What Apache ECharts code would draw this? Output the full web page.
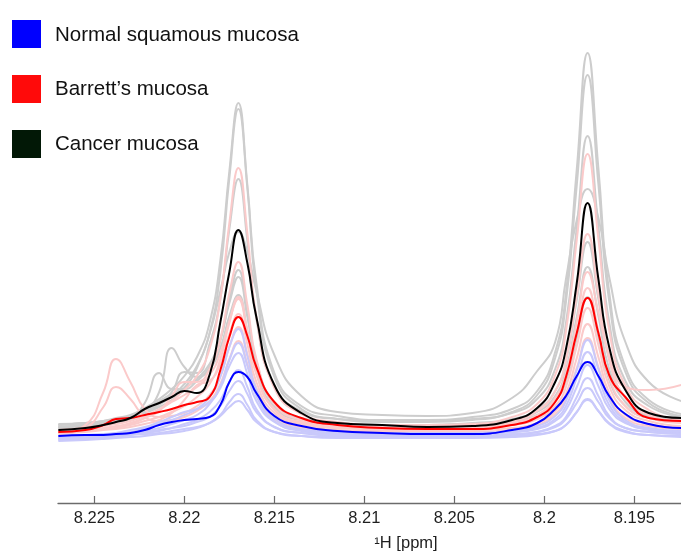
<!DOCTYPE html>
<html>
<head>
<meta charset="utf-8">
<script src="https://cdn.jsdelivr.net/npm/echarts@6/dist/echarts.min.js"></script>
<style>
html,body{margin:0;padding:0;background:#fff;}
#chart{width:681px;height:554px;}
</style>
</head>
<body>
<div id="chart"></div>
<script>
// chemical shift grid (ppm)
const ppm = [8.2270, 8.2255, 8.2245, 8.2238, 8.2230, 8.2222, 8.2214, 8.2207, 8.2200, 8.2193, 8.2186, 8.2180, 8.2175, 8.2170, 8.2165, 8.2160, 8.2150, 8.2135, 8.2115, 8.2090, 8.2065, 8.2040, 8.2018, 8.2004, 8.1994, 8.1988, 8.1982, 8.1976, 8.1970, 8.1964, 8.1955, 8.1942, 8.1924];

const tickValues = [8.195, 8.2, 8.205, 8.21, 8.215, 8.22, 8.225];
const legendNames = ['Normal squamous mucosa', "Barrett\u2019s mucosa", 'Cancer mucosa'];
const axisTitle = '\u00B9H [ppm]';

// mean spectra (arbitrary intensity)
const normalMean  = [1,2,2,3,4,7,12,15,17,18,20,32,55,65,60,44,21,11,6,4,3,3, 7,14,28,41,61,75,61,41,23,13,9];
const barrettMean = [5,7,12,18,19,22,25,28,32,35,40,67,100,120,101,70,35,19,12,9,8,8, 12,20,35,60,104,139,104,62,40,19,16];
const cancerMean  = [7,9,12,15,19,28,34,40,46,44,62,115,165,207,174,120,52,24,14,12,10,11, 17,29,55,88,154,234,158,90,47,24,19];

// individual normal squamous mucosa spectra
const normal1 = [0,1,2,4,5,9,13,17,22,28,40,60,90,108,81,47,19,8,5,4,4,4, 6,11,21,36,67,97,68,37,17,9,6];
const normal2 = [-1,0,1,3,4,6,9,13,17,22,33,51,77,94,71,41,16,6,3,3,2,3, 5,9,18,31,59,85,60,32,15,7,4];
const normal3 = [1,2,3,4,7,10,15,20,25,28,35,49,71,84,63,36,15,7,4,3,3,4, 5,8,16,27,50,72,51,28,14,8,5];
const normal4 = [-3,-1,0,1,2,4,6,9,13,17,25,37,55,67,50,28,10,4,1,0,0,0, 2,5,11,20,40,59,41,21,9,5,3];
const normal5 = [-1,0,1,2,3,5,7,9,11,15,20,31,46,56,43,25,10,4,2,1,1,2, 3,5,10,18,34,49,35,19,9,5,3];
const normal6 = [-4,-3,-2,-1,0,1,3,4,6,9,14,22,35,43,32,17,5,1,-1,-1,-1,-1, 0,2,6,12,25,38,26,13,5,2,0];
const normal7 = [-2,-2,-1,0,2,3,4,6,8,10,14,21,30,36,27,15,5,1,0,0,-1,0, 1,3,6,12,25,37,26,14,6,2,1];

// individual Barrett's mucosa spectra
const barrett1 = [7,9,11,13,16,21,28,36,47,61,88,138,214,269,204,120,49,23,15,12,12,13, 20,33,62,106,197,283,198,107,51,27,17];
const barrett2 = [6,8,9,11,13,19,26,41,55,55,68,98,144,175,132,78,33,17,12,10,10,12, 16,26,46,77,142,203,143,78,39,22,15];
const barrett3 = [5,6,8,9,12,16,20,25,31,40,53,78,114,140,106,63,27,14,10,8,8,9, 14,22,39,64,115,165,125,82,50,47,52];
const barrett4 = [4,5,7,8,10,13,17,24,37,52,56,73,103,123,93,55,24,13,9,8,8,9, 12,18,31,50,91,129,92,51,27,16,11];
const barrett5 = [4,12,45,78,55,28,20,21,24,31,42,61,90,110,83,49,21,10,7,6,6,7, 9,14,26,43,79,113,80,44,22,13,9];
const barrett6 = [3,9,30,50,38,20,16,17,20,26,36,53,78,96,73,43,18,8,6,5,5,5, 7,12,23,38,69,99,70,39,19,11,8];
const barrett7 = [5,6,8,10,14,19,27,35,42,50,62,84,116,138,104,63,28,15,12,10,10,11, 14,21,36,59,105,149,106,60,31,19,14];

// individual cancer mucosa spectra
const cancer1 = [12,14,16,19,22,29,38,48,61,80,114,177,266,334,252,154,64,31,21,17,17,20, 28,46,85,144,268,384,269,145,70,37,23];
const cancer2 = [10,12,14,16,20,25,32,41,53,71,104,165,259,328,249,147,60,28,18,15,15,17, 25,42,79,135,252,362,253,136,65,34,21];
const cancer3 = [12,14,15,17,20,26,33,45,65,64,93,138,208,258,196,118,51,26,18,16,16,18, 24,38,68,114,210,301,211,115,56,31,20];
const cancer4 = [9,11,12,14,18,34,64,48,48,56,70,96,138,167,126,76,34,18,13,12,12,13, 18,27,46,76,137,195,138,77,39,23,16];
const cancer5 = [9,10,12,14,18,25,45,89,70,60,68,89,121,142,106,65,30,17,14,12,12,14, 17,25,41,67,120,170,121,68,35,21,16];
const cancer6 = [13,14,16,18,20,24,30,37,49,69,103,146,185,205,185,146,82,41,25,22,21,24, 39,66,95,158,217,248,219,160,95,55,36];
const cancer7 = [10,12,13,15,21,28,36,43,49,58,73,98,134,160,120,73,33,19,14,12,12,13, 16,22,36,56,99,140,100,57,31,19,15];

const colNormal = '#0000ff', colBarrett = '#ff0000', colCancer = '#000000';
const colNormalFaint = '#c9c9fb', colBarrettFaint = '#fbcaca', colCancerFaint = '#cdcdcd';
const legendColors = ['#0000ff', '#ff0a0a', '#021806'];

function pairs(vals) { return ppm.map((p, i) => [p, vals[i]]); }
function line(name, vals, color, width, z) {
  return {
    name: name, type: 'line', data: pairs(vals), smooth: 0.5,
    showSymbol: false, symbol: 'none', silent: true, z: z,
    lineStyle: { color: color, width: width }, emphasis: { disabled: true }
  };
}

const series = [];
[cancer1, cancer2, cancer3, cancer4, cancer5, cancer6, cancer7].forEach((v, i) => series.push(line('c' + i, v, colCancerFaint, 2, 2)));
[barrett1, barrett2, barrett3, barrett4, barrett5, barrett6, barrett7].forEach((v, i) => series.push(line('b' + i, v, colBarrettFaint, 2, 3)));
[normal1, normal2, normal3, normal4, normal5, normal6, normal7].forEach((v, i) => series.push(line('n' + i, v, colNormalFaint, 2, 4)));
series.push(line(legendNames[1], barrettMean, colBarrett, 2, 5));
series.push(line(legendNames[2], cancerMean, colCancer, 2, 6));
series.push(line(legendNames[0], normalMean, colNormal, 2, 7));

const font = '"Liberation Sans", Arial, Helvetica, sans-serif';
const legendGraphics = [];
const legendY = [20, 75, 130];
const legendTextY = [35.5, 89, 144.5];
legendNames.forEach((n, i) => {
  legendGraphics.push({ type: 'rect', left: 12, top: legendY[i], shape: { width: 29, height: 28 }, style: { fill: legendColors[i] }, silent: true });
  legendGraphics.push({ type: 'text', x: 55, y: legendTextY[i], style: { text: n, font: '20.5px ' + font, fill: '#111111', textVerticalAlign: 'middle', verticalAlign: 'middle' }, silent: true });
});
legendGraphics.push({ type: 'text', x: 406, y: 543, style: { text: axisTitle, font: '16.5px ' + font, fill: '#1e1e1e', align: 'center', verticalAlign: 'middle', textAlign: 'center', textVerticalAlign: 'middle' }, silent: true });

const chart = echarts.init(document.getElementById('chart'), null, { renderer: 'canvas' });
chart.setOption({
  animation: false,
  backgroundColor: '#ffffff',
  grid: { left: 58, right: 0, top: 3, bottom: 51, containLabel: false },
  xAxis: {
    type: 'value', inverse: true, min: 8.19241, max: 8.22702,
    axisLine: { show: true, onZero: false, lineStyle: { color: '#6b6b6b', width: 1.3 } },
    axisTick: { show: true, inside: true, length: 7, customValues: tickValues, lineStyle: { color: '#6b6b6b', width: 1.2 } },
    axisLabel: { customValues: tickValues, fontSize: 16.5, fontFamily: font, color: '#1e1e1e', margin: 7,
      formatter: v => String(+Number(v).toFixed(3)) },
    splitLine: { show: false }
  },
  yAxis: { type: 'value', min: -66, max: 434, show: false },
  series: series,
  graphic: legendGraphics
});
</script>
</body>
</html>
